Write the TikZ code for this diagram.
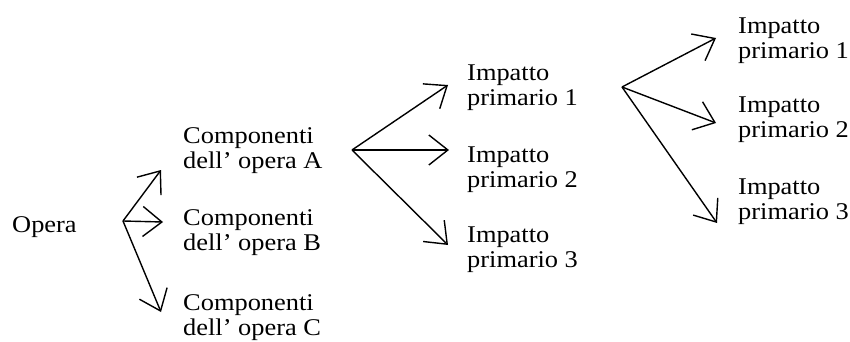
\documentclass[tikz,border=0pt]{standalone}
\usepackage{fontspec}
\setmainfont[FakeStretch=1.1]{Liberation Serif}
\usetikzlibrary{arrows.meta}
\begin{document}
\begin{tikzpicture}[x=1pt,y=-1pt,
  lbl/.style={inner sep=0pt, anchor=base west, align=left, font=\fontsize{24}{25}\selectfont},
  arr/.style={line width=1.4pt, -{Straight Barb[length=19pt, width=30pt, line width=1.4pt]}}]
\useasboundingbox (0,0) rectangle (850,342);
% labels (anchor = baseline of the last line)
\node[lbl] (op) at (12,232) {Opera};
\node[lbl] (ca) at (183,168) {Componenti\\dell' opera A};
\node[lbl] (cb) at (183,250) {Componenti\\dell' opera B};
\node[lbl] (cc) at (183,335) {Componenti\\dell' opera C};
\node[lbl] (i1) at (467,106) {Impatto\\primario 1};
\node[lbl] (i2) at (467,187) {Impatto\\primario 2};
\node[lbl] (i3) at (467,267) {Impatto\\primario 3};
\node[lbl] (j1) at (738,59) {Impatto\\primario 1};
\node[lbl] (j2) at (738,137) {Impatto\\primario 2};
\node[lbl] (j3) at (738,219) {Impatto\\primario 3};
% branch points and tips
\coordinate (o1) at (123,221);
\coordinate (o2) at (352,150);
\coordinate (o3) at (622,87);
\coordinate (ta) at (161,170);
\coordinate (tb) at (163,222);
\coordinate (tc) at (161,312);
\coordinate (t1) at (448,85);
\coordinate (t2) at (449,150);
\coordinate (t3) at (448,245);
\coordinate (u1) at (716,38);
\coordinate (u2) at (716,123);
\coordinate (u3) at (717,223);
\draw[arr] (o1) -- (ta);
\draw[arr] (o1) -- (tb);
\draw[arr] (o1) -- (tc);
\draw[arr] (o2) -- (t1);
\draw[arr] (o2) -- (t2);
\draw[arr] (o2) -- (t3);
\draw[arr] (o3) -- (u1);
\draw[arr] (o3) -- (u2);
\draw[arr] (o3) -- (u3);
\end{tikzpicture}
\end{document}
